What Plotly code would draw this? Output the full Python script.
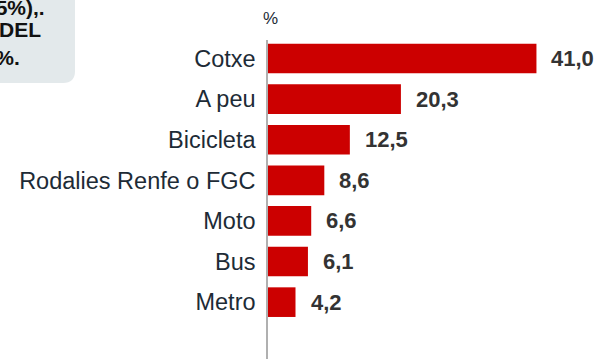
import plotly.graph_objects as go

# Mode share data (%)
categories = ["Cotxe", "A peu", "Bicicleta", "Rodalies Renfe o FGC", "Moto", "Bus", "Metro"]
values = [41.0, 20.3, 12.5, 8.6, 6.6, 6.1, 4.2]
unit_label = "%"
note_lines = ["(15%),.", "DEL", "10%."]

W, H = 598, 359
RED = "#cc0000"
TXT = "#1d2b36"
FONT = "Liberation Sans, Arial, sans-serif"


def px_x(x):
    return x / W


def px_y(y):
    return 1 - y / H


fig = go.Figure()
fig.add_trace(go.Bar(
    y=categories,
    x=values,
    orientation="h",
    marker=dict(color=RED, line=dict(width=0)),
    width=0.73,
    hoverinfo="skip",
))

# value labels next to each bar
for c, v in zip(categories, values):
    fig.add_annotation(
        x=v, y=c, xref="x", yref="y",
        text=f"{v:.1f}".replace(".", ","),
        showarrow=False, xanchor="left", yanchor="middle", xshift=13,
        font=dict(family=FONT, size=22, color="#333333", weight="bold"),
    )

# unit label above the axis
fig.add_annotation(
    x=px_x(270), y=px_y(18), xref="paper", yref="paper",
    text=unit_label, showarrow=False, xanchor="center", yanchor="middle",
    font=dict(family=FONT, size=17, color=TXT),
)

# note box in the top-left corner
x0, x1 = px_x(-10), px_x(75)
yt, yb, yr = px_y(-10), px_y(83), px_y(71)
xr = px_x(63)
fig.add_shape(
    type="path", xref="paper", yref="paper",
    path=f"M {x0},{yt} L {x1},{yt} L {x1},{yr} Q {x1},{yb} {xr},{yb} L {x0},{yb} Z",
    fillcolor="#e3e9eb", line=dict(width=0), layer="below",
)
for text, xe, yc in zip(note_lines, [47, 43, 22], [8, 30, 57]):
    fig.add_annotation(
        x=px_x(xe), y=px_y(yc), xref="paper", yref="paper",
        text=text, showarrow=False, xanchor="right", yanchor="middle",
        font=dict(family=FONT, size=21, color="#111111", weight="bold"),
    )

fig.update_layout(
    width=W, height=H,
    margin=dict(l=0, r=0, t=0, b=0),
    paper_bgcolor="white", plot_bgcolor="white",
    showlegend=False,
    bargap=0.27,
    xaxis=dict(
        domain=[px_x(268), 1],
        range=[0, 50.4],
        visible=False,
    ),
    yaxis=dict(
        domain=[0, px_y(40)],
        type="category",
        categoryorder="array", categoryarray=categories,
        range=[7.4, -0.456],
        showline=True, linecolor="#b0b0b0", linewidth=1.5,
        showgrid=False, zeroline=False, ticks="",
        ticklabelstandoff=6,
        tickfont=dict(family=FONT, size=23.5, color=TXT),
    ),
)

fig.write_html("out.html")
